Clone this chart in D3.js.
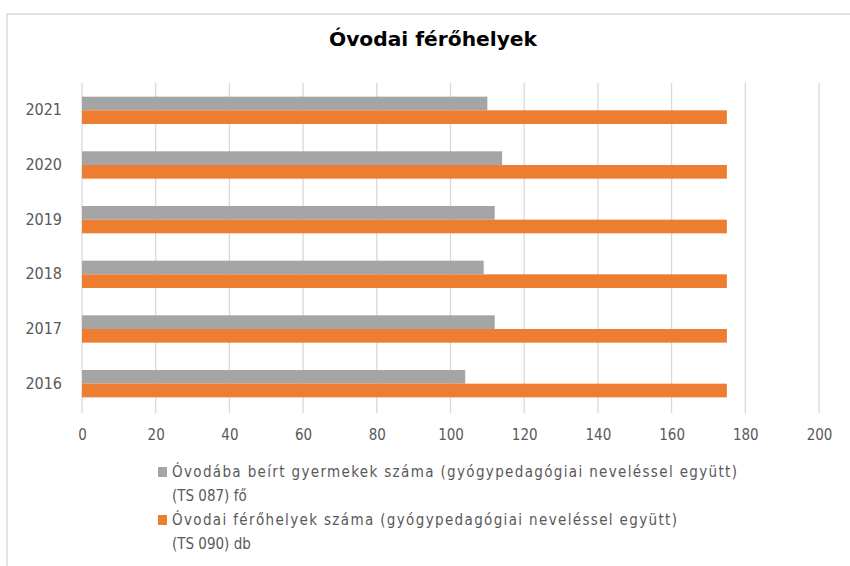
<!DOCTYPE html>
<html>
<head>
<meta charset="utf-8">
<script src="https://cdn.jsdelivr.net/npm/d3@7"></script>
<style>
  body { margin: 0; background: #fff; }
  text { font-family: "Liberation Sans Narrow", "DejaVu Sans Condensed", "Open Sans", sans-serif; }
</style>
</head>
<body>
<div id="chart"></div>
<script>
// data
var years = ["2016", "2017", "2018", "2019", "2020", "2021"];
var enrolled = [104, 112, 109, 112, 114, 110];   // gray
var places = [175, 175, 175, 175, 175, 175];     // orange
var xTicks = [0, 20, 40, 60, 80, 100, 120, 140, 160, 180, 200];
var seriesNames = [
  ["Óvodába beírt gyermekek száma (gyógypedagógiai neveléssel együtt)", "(TS 087) fő"],
  ["Óvodai férőhelyek száma (gyógypedagógiai neveléssel együtt)", "(TS 090) db"]
];
var colors = ["#a5a5a5", "#ed7d31"];
var title = "Óvodai férőhelyek";

var W = 850, H = 566;
var plotL = 82, plotR = 819, plotT = 83, plotB = 411;

var svg = d3.select("#chart").append("svg")
  .attr("width", W).attr("height", H);

// chart border (cut off on the right and bottom)
svg.append("rect")
  .attr("x", 7).attr("y", 14)
  .attr("width", W + 20).attr("height", H + 20)
  .attr("fill", "#fff").attr("stroke", "#d9d9d9").attr("stroke-width", 1.5);

svg.append("text")
  .attr("x", 433).attr("y", 46)
  .attr("text-anchor", "middle")
  .attr("textLength", 208).attr("lengthAdjust", "spacingAndGlyphs")
  .style("font-size", "20px").style("font-weight", "bold")
  .attr("fill", "#000")
  .text(title);

var x = d3.scaleLinear().domain([0, 200]).range([plotL, plotR]);
var y = d3.scaleBand().domain(years.slice().reverse()).range([plotT, plotB]).paddingInner(0.5).paddingOuter(0.25);
var ySub = d3.scaleBand().domain([0, 1]).range([0, y.bandwidth()]);

// gridlines
svg.append("g")
  .selectAll("line").data(xTicks).enter().append("line")
  .attr("x1", d => x(d)).attr("x2", d => x(d))
  .attr("y1", plotT).attr("y2", plotB + 2)
  .attr("stroke", "#d9d9d9").attr("stroke-width", 1.3);

// x tick labels
svg.append("g")
  .attr("transform", "translate(0," + (plotB + 2) + ")")
  .call(d3.axisBottom(x).tickValues(xTicks).tickSize(0).tickPadding(16))
  .call(g => g.select(".domain").remove())
  .selectAll("text")
  .style("font-size", "15px").attr("fill", "#595959");

// y labels
svg.append("g")
  .attr("transform", "translate(" + plotL + ",0)")
  .call(d3.axisLeft(y).tickSize(0).tickPadding(20))
  .call(g => g.select(".domain").remove())
  .selectAll("text")
  .style("font-size", "16px").attr("fill", "#595959");

var series = [enrolled, places];
series.forEach(function(vals, s) {
  svg.append("g").selectAll("rect")
    .data(years).enter().append("rect")
    .attr("x", x(0))
    .attr("y", (d) => y(d) + ySub(s))
    .attr("width", (d, i) => x(vals[i]) - x(0))
    .attr("height", ySub.bandwidth())
    .attr("fill", colors[s]);
});

// legend
var legY = [477, 525];
var legW = [565, 505];
seriesNames.forEach(function(lines, s) {
  svg.append("rect")
    .attr("x", 158).attr("y", legY[s] - 10)
    .attr("width", 9).attr("height", 10)
    .attr("fill", colors[s]);
  lines.forEach(function(t, j) {
    var txt = svg.append("text")
      .attr("x", 172).attr("y", legY[s] + j * 24)
      .style("font-size", "15px").attr("fill", "#595959")
      .text(t);
    if (j == 0) txt.attr("textLength", legW[s]).attr("lengthAdjust", "spacing");
  });
});
</script>
</body>
</html>
